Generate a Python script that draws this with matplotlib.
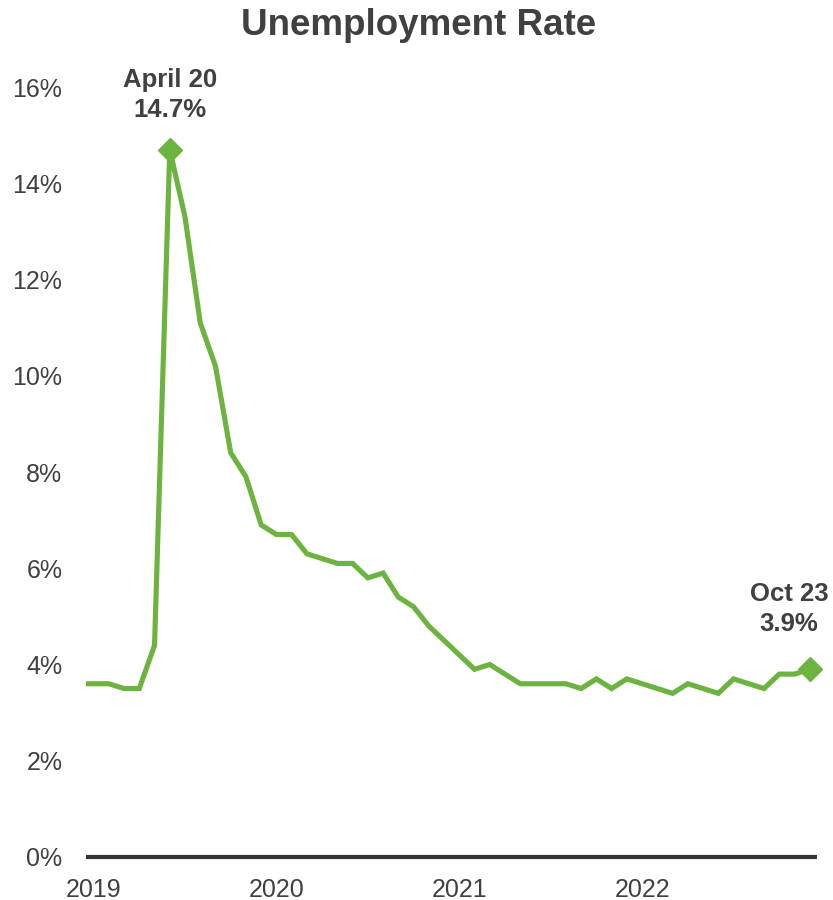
import matplotlib.pyplot as plt
import numpy as np

plt.rcParams['font.family'] = ['Liberation Sans', 'DejaVu Sans']

# monthly unemployment rate, Oct 2019 .. Oct 2023
rate = np.array([3.6, 3.6, 3.6, 3.5, 3.5, 4.4, 14.7, 13.3, 11.1, 10.2, 8.4, 7.9,
                 6.9, 6.7, 6.7, 6.3, 6.2, 6.1, 6.1, 5.8, 5.9, 5.4, 5.2, 4.8,
                 4.5, 4.2, 3.9, 4.0, 3.8, 3.6, 3.6, 3.6, 3.6, 3.5, 3.7, 3.5,
                 3.7, 3.6, 3.5, 3.4, 3.6, 3.5, 3.4, 3.7, 3.6, 3.5, 3.8, 3.8, 3.9])
x = np.arange(len(rate))
year_ticks = [1, 13, 25, 37]
year_labels = ["2019", "2020", "2021", "2022"]
y_ticks = [0, 2, 4, 6, 8, 10, 12, 14, 16]

green = '#6db33f'
dark = '#404040'

fig = plt.figure(figsize=(8.33, 9), dpi=100)
ax = fig.add_axes([0.1032, 0.0478, 0.878, 0.8555])

ax.plot(x, rate, color=green, linewidth=3.7, solid_joinstyle='miter')
peak = int(np.argmax(rate))
last = len(rate) - 1
ax.plot([peak, last], [rate[peak], rate[last]], linestyle='none', marker='D',
        markersize=12, color=green, clip_on=False)

ax.annotate("April 20\n14.7%", (peak, rate[peak]), xytext=(0, 20),
            textcoords='offset points', ha='center', va='bottom',
            fontsize=18.5, fontweight='bold', color=dark, linespacing=1.3,
            annotation_clip=False)
ax.annotate("Oct 23\n3.9%", (last, rate[last]), xytext=(-15, 24),
            textcoords='offset points', ha='center', va='bottom',
            fontsize=18.5, fontweight='bold', color=dark, linespacing=1.3,
            annotation_clip=False)

ax.set_xlim(0.5, 48.5)
ax.set_ylim(0, 16)
ax.set_xticks(year_ticks)
ax.set_xticklabels(year_labels)
ax.set_yticks(y_ticks)
ax.set_yticklabels([f"{v}%" for v in y_ticks])
ax.tick_params(axis='both', length=0, labelsize=18, labelcolor=dark)
ax.tick_params(axis='y', pad=17)
ax.tick_params(axis='x', pad=15)

for s in ['top', 'right', 'left']:
    ax.spines[s].set_visible(False)
ax.spines['bottom'].set_color('#333333')
ax.spines['bottom'].set_linewidth(3)
ax.spines['bottom'].set_capstyle('butt')

fig.text(0.503, 0.972, "Unemployment Rate", ha='center', va='center',
         fontsize=26.5, fontweight='bold', color=dark)

fig.savefig('out.png', dpi=100)
